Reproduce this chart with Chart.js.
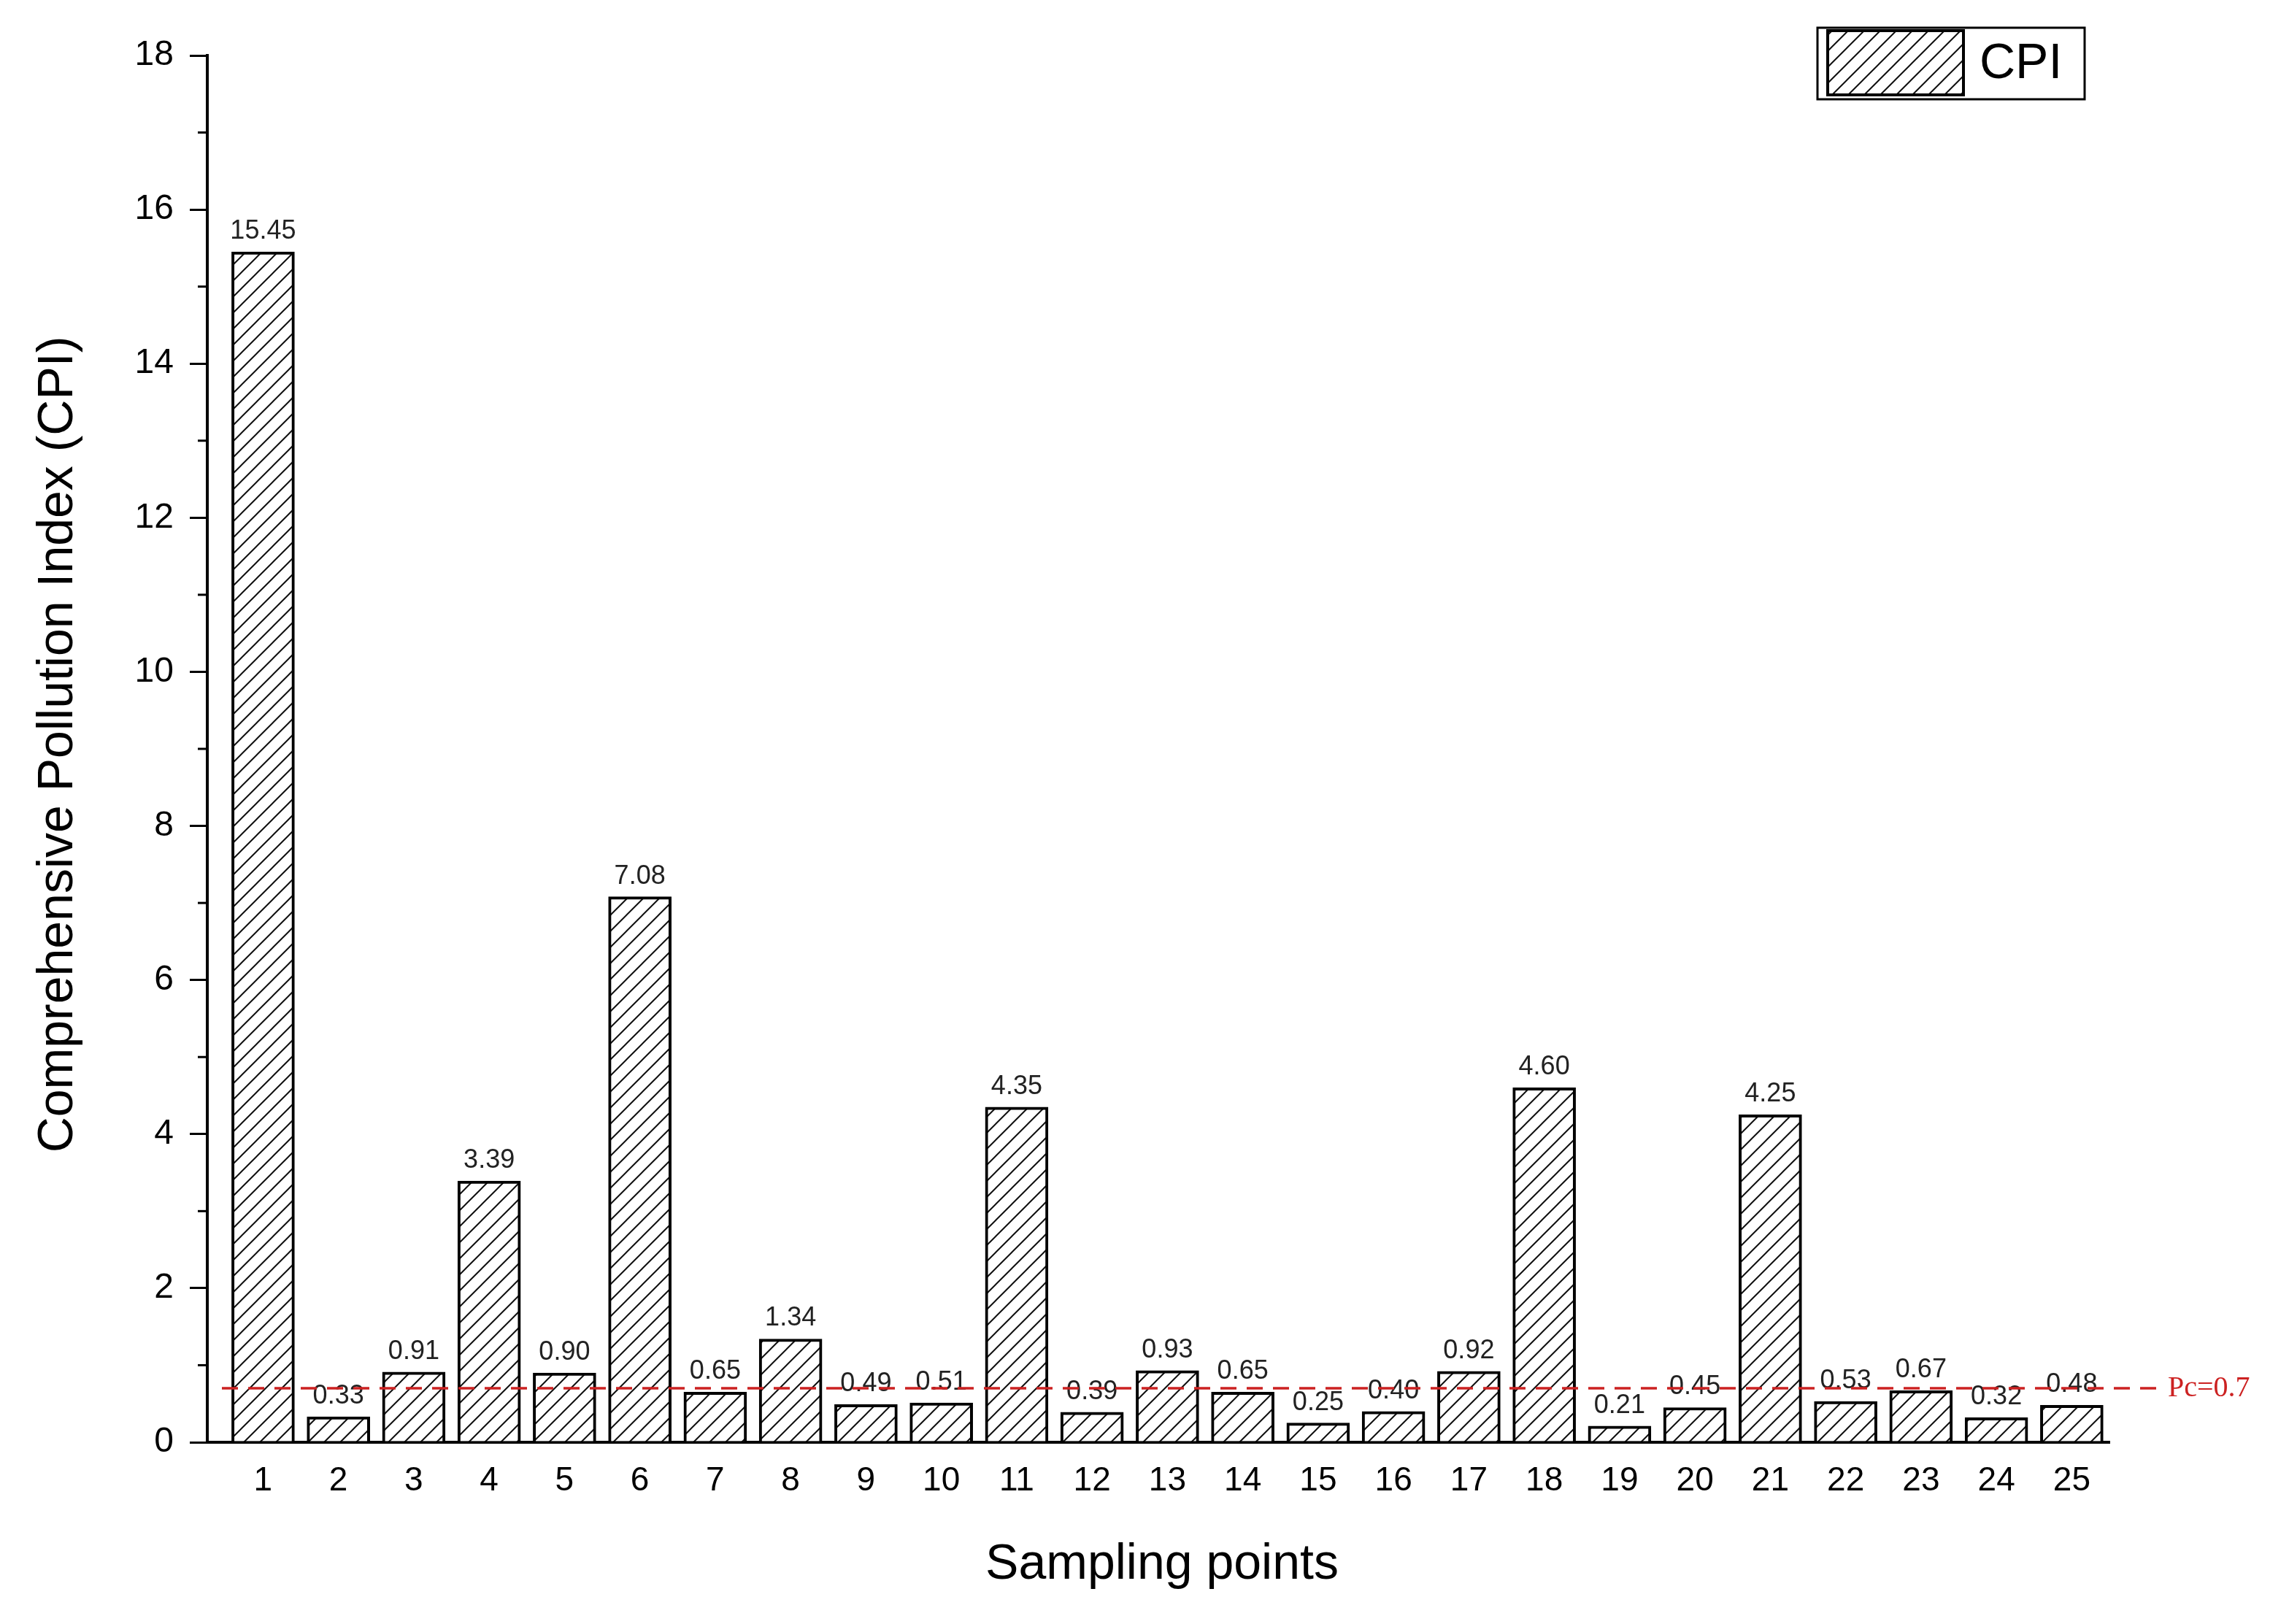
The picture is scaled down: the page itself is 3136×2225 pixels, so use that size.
<!DOCTYPE html>
<html><head><meta charset="utf-8">
<script src="https://cdn.jsdelivr.net/npm/chart.js@4"></script>
<style>html,body{margin:0;padding:0;background:#fff}canvas{display:block}</style>
</head><body>
<div style="width:3136px;height:2225px"><canvas id="c" width="3136" height="2225"></canvas></div>
<script>
const categories = [1,2,3,4,5,6,7,8,9,10,11,12,13,14,15,16,17,18,19,20,21,22,23,24,25];
const cpiValues = [15.45,0.33,0.91,3.39,0.90,7.08,0.65,1.34,0.49,0.51,4.35,0.39,0.93,0.65,0.25,0.40,0.92,4.60,0.21,0.45,4.25,0.53,0.67,0.32,0.48];
const yTicks = [0,2,4,6,8,10,12,14,16,18];
const pcValue = 0.7;

function hatch(){
  const s=22, p=document.createElement('canvas'); p.width=s; p.height=s;
  const g=p.getContext('2d'); g.fillStyle='#fff'; g.fillRect(0,0,s,s);
  g.strokeStyle='#111'; g.lineWidth=2;
  g.beginPath(); g.moveTo(-2,s+2); g.lineTo(s+2,-2);
  g.moveTo(-2,2); g.lineTo(2,-2); g.moveTo(s-2,s+2); g.lineTo(s+2,s-2); g.stroke();
  return g.createPattern(p,'repeat');
}
const ctx=document.getElementById('c').getContext('2d');
const pat=hatch();

const deco={id:'deco',
  afterDatasetsDraw(ch){
    const c=ch.ctx,x=ch.scales.x,y=ch.scales.y,a=ch.chartArea;
    c.save();
    // minor ticks
    c.strokeStyle='#000'; c.lineWidth=3;
    for(let v=1;v<18;v+=2){const py=y.getPixelForValue(v);c.beginPath();c.moveTo(a.left-13,py);c.lineTo(a.left,py);c.stroke();}
    // value labels
    c.fillStyle='#222'; c.font='36px "Liberation Sans"'; c.textAlign='center'; c.textBaseline='bottom';
    categories.forEach((k,i)=>{c.fillText(cpiValues[i].toFixed(2),x.getPixelForValue(k),y.getPixelForValue(cpiValues[i])-10);});
    // Pc line
    const py=y.getPixelForValue(pcValue);
    c.strokeStyle='#cc2222'; c.lineWidth=3.5; c.setLineDash([22,14]);
    c.beginPath(); c.moveTo(a.left+20,py); c.lineTo(2962,py); c.stroke(); c.setLineDash([]);
    c.fillStyle='#cc2222'; c.font='40px "Liberation Serif"'; c.textAlign='left'; c.textBaseline='middle';
    c.fillText('Pc='+pcValue,2970,py);
    // axis titles
    c.fillStyle='#000'; c.font='68px "Liberation Sans"'; c.textAlign='center'; c.textBaseline='middle';
    c.fillText('Sampling points',1592,2144);
    c.translate(80,1020); c.rotate(-Math.PI/2); c.fillText('Comprehensive Pollution Index (CPI)',0,0);
    c.restore();
    // legend
    c.save();
    c.strokeStyle='#000'; c.lineWidth=3; c.strokeRect(2490,38,366,98);
    c.fillStyle=pat; c.fillRect(2504,42,186,88); c.lineWidth=4; c.strokeRect(2504,42,186,88);
    c.fillStyle='#000'; c.font='68px "Liberation Sans"'; c.textAlign='left'; c.textBaseline='middle';
    c.fillText('CPI',2712,88);
    c.restore();
  }};

new Chart(ctx,{type:'bar',
  data:{datasets:[{label:'CPI',data:categories.map((k,i)=>({x:k,y:cpiValues[i]})),
    backgroundColor:pat,borderColor:'#000',borderWidth:4,borderSkipped:'bottom',barThickness:86}]},
  options:{responsive:false,animation:false,devicePixelRatio:1,
    layout:{padding:{left:0,top:76,right:246,bottom:0}},
    plugins:{legend:{display:false},tooltip:{enabled:false}},
    scales:{
      x:{type:'linear',min:0.26,max:25.5,offset:false,
        afterBuildTicks(s){s.ticks=categories.map(v=>({value:v}));},
        afterFit(s){s.height=249;},
        grid:{display:false,drawTicks:false},
        border:{display:true,color:'#000',width:4},
        ticks:{padding:26,color:'#000',font:{size:46,family:'Liberation Sans'},autoSkip:false,maxRotation:0}},
      y:{min:0,max:18,
        afterBuildTicks(s){s.ticks=yTicks.map(v=>({value:v}));},
        afterFit(s){s.width=284;},
        grid:{drawOnChartArea:false,drawTicks:true,tickLength:24,color:'#000',lineWidth:3},
        border:{display:true,color:'#000',width:4},
        ticks:{padding:22,color:'#000',font:{size:48,family:'Liberation Sans'}}}
    }},
  plugins:[deco]});
</script></body></html>
